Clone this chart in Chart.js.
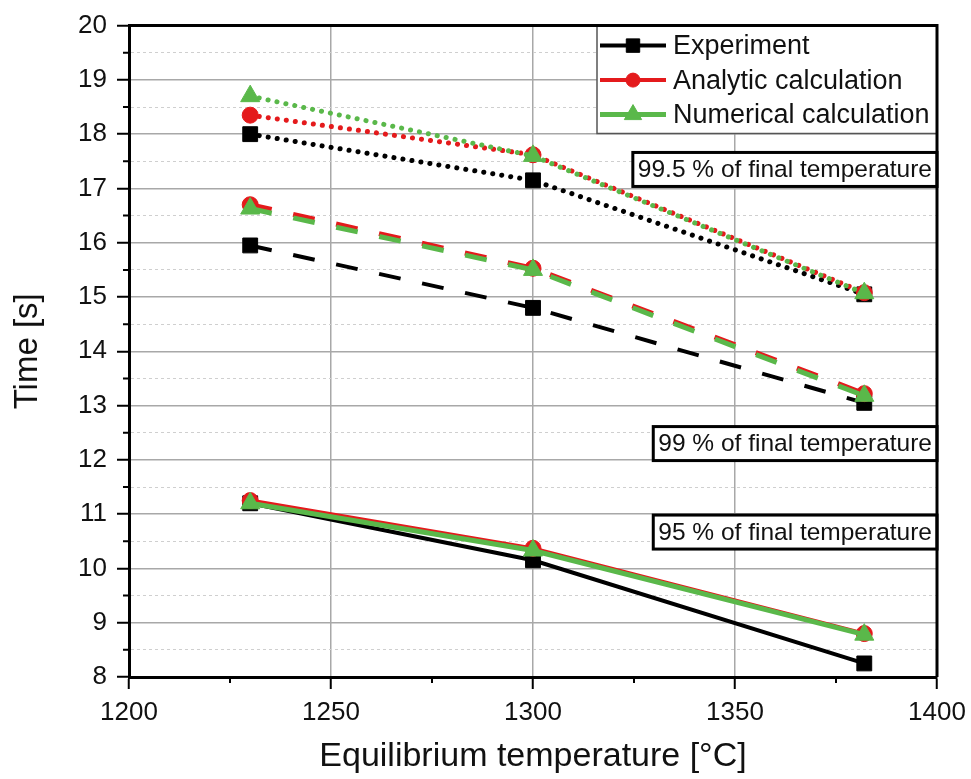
<!DOCTYPE html>
<html>
<head>
<meta charset="utf-8">
<script src="https://cdn.jsdelivr.net/npm/chart.js@4.4.0/dist/chart.umd.min.js"></script>
<style>
  html, body { margin: 0; padding: 0; background: #fff; }
  #wrap { width: 971px; height: 779px; }
</style>
</head>
<body>
<div id="wrap"><canvas id="chart" width="971" height="779"></canvas></div>
<script>
// equilibrium temperatures [°C]
const temps = [1230, 1300, 1382];

// time [s] to reach 95 / 99 / 99.5 % of the final temperature
const exp95 = [11.2, 10.15, 8.25];
const exp99 = [15.95, 14.8, 13.05];
const exp995 = [18.0, 17.15, 15.05];

const ana95 = [11.25, 10.37, 8.8];
const ana99 = [16.7, 15.53, 13.22];
const ana995 = [18.35, 17.62, 15.08];

const num95 = [11.2, 10.33, 8.78];
const num99 = [16.63, 15.5, 13.18];
const num995 = [18.7, 17.6, 15.07];

const seriesNames = ['Experiment', 'Analytic calculation', 'Numerical calculation'];
const levelLabels = ['99.5 % of final temperature', '99 % of final temperature', '95 % of final temperature'];
const levelLabelY = [17.35, 12.3, 10.67];

const FONT = "'Liberation Sans', Arial, sans-serif";
const BLACK = '#000000', RED = '#e41a1c', GREEN = '#5ab84a';
const DOTTED = [0.1, 9], DASHED = [22, 22], SOLID = [];
const seriesColors = [BLACK, RED, GREEN];
const seriesShapes = ['rect', 'circle', 'triangle'];
const shapeRadius = { rect: 10.5, circle: 8, triangle: 11 };

function pts(ys) {
  return ys.map((y, i) => ({ x: temps[i], y: y }));
}

function series(k, ys, dash, width) {
  return {
    label: seriesNames[k],
    data: pts(ys),
    borderColor: seriesColors[k],
    backgroundColor: seriesColors[k],
    borderWidth: width,
    borderDash: dash,
    borderCapStyle: dash === DOTTED ? 'round' : 'butt',
    pointStyle: seriesShapes[k],
    pointRadius: shapeRadius[seriesShapes[k]],
    pointBorderWidth: 1,
    pointBorderColor: seriesColors[k],
    pointBackgroundColor: seriesColors[k],
    order: 2 - k,
    tension: 0
  };
}

const isInt = v => Math.abs(v - Math.round(v)) < 1e-6;

// ticks, boxes, legend and frame
const decorations = {
  id: 'decorations',
  afterDatasetsDraw(chart) {
    const { ctx, chartArea: a, scales: { x, y } } = chart;
    ctx.save();

    // minor ticks
    ctx.strokeStyle = BLACK;
    ctx.lineWidth = 2;
    ctx.beginPath();
    y.ticks.forEach(t => {
      if (!isInt(t.value)) {
        const py = y.getPixelForValue(t.value);
        ctx.moveTo(a.left - 6, py); ctx.lineTo(a.left, py);
      }
    });
    x.ticks.forEach(t => {
      if (t.value % 50 !== 0) {
        const px = x.getPixelForValue(t.value);
        ctx.moveTo(px, a.bottom); ctx.lineTo(px, a.bottom + 6);
      }
    });
    ctx.stroke();

    // level boxes
    ctx.font = '24.5px ' + FONT;
    ctx.textBaseline = 'middle';
    levelLabels.forEach((t, i) => {
      const w = ctx.measureText(t).width + 10;
      const h = 34;
      const cy = y.getPixelForValue(levelLabelY[i]);
      ctx.fillStyle = '#fff';
      ctx.fillRect(a.right - w, cy - h / 2, w, h);
      ctx.lineWidth = 3;
      ctx.strokeStyle = BLACK;
      ctx.strokeRect(a.right - w, cy - h / 2, w, h);
      ctx.fillStyle = '#111';
      ctx.fillText(t, a.right - w + 5, cy + 1);
    });

    // legend
    const lw = 340, lh = 108;
    const lx = a.right - lw, ly = a.top;
    ctx.fillStyle = '#fff';
    ctx.fillRect(lx, ly, lw, lh);
    ctx.strokeStyle = '#555';
    ctx.lineWidth = 1.5;
    ctx.beginPath();
    ctx.moveTo(lx, ly); ctx.lineTo(lx, ly + lh); ctx.lineTo(a.right, ly + lh);
    ctx.stroke();
    ctx.font = '27px ' + FONT;
    seriesNames.forEach((name, k) => {
      const cy = ly + 20 + k * 34.5;
      ctx.strokeStyle = seriesColors[k];
      ctx.fillStyle = seriesColors[k];
      ctx.lineWidth = k === 2 ? 5 : 4;
      ctx.beginPath();
      ctx.moveTo(lx + 3, cy); ctx.lineTo(lx + 69, cy);
      ctx.stroke();
      ctx.lineWidth = 1;
      Chart.helpers.drawPoint(ctx, { pointStyle: seriesShapes[k], rotation: 0, radius: shapeRadius[seriesShapes[k]] - 1, borderWidth: 1 }, lx + 36, cy);
      ctx.fillStyle = '#111';
      ctx.fillText(name, lx + 76, cy + 1);
    });

    // frame top / right
    ctx.strokeStyle = BLACK;
    ctx.lineWidth = 3;
    ctx.beginPath();
    ctx.moveTo(a.left, a.top); ctx.lineTo(a.right, a.top); ctx.lineTo(a.right, a.bottom);
    ctx.stroke();
    ctx.restore();
  }
};

new Chart(document.getElementById('chart').getContext('2d'), {
  type: 'line',
  data: {
    datasets: [
      series(2, num995, DOTTED, 5), series(2, num99, DASHED, 5), series(2, num95, SOLID, 5),
      series(1, ana995, DOTTED, 5), series(1, ana99, DASHED, 5), series(1, ana95, SOLID, 4),
      series(0, exp995, DOTTED, 5), series(0, exp99, DASHED, 4), series(0, exp95, SOLID, 4)
    ]
  },
  options: {
    responsive: false,
    animation: false,
    layout: { padding: { top: 25, right: 34, left: 0, bottom: 0 } },
    plugins: { legend: { display: false }, tooltip: { enabled: false } },
    scales: {
      x: {
        type: 'linear', min: 1200, max: 1400,
        ticks: {
          stepSize: 25, autoSkip: false, maxRotation: 0, padding: 8, color: '#111',
          font: { family: FONT, size: 26 },
          callback: v => (v % 50 === 0 ? String(v) : '')
        },
        grid: {
          color: c => (c.tick && c.tick.value % 50 === 0 ? '#a8a8a8' : 'rgba(0,0,0,0)'),
          lineWidth: 1.5, tickLength: 12, tickWidth: 2,
          tickColor: c => (c.tick && c.tick.value % 50 === 0 ? BLACK : 'rgba(0,0,0,0)')
        },
        border: { color: BLACK, width: 3 },
        title: { display: true, text: 'Equilibrium temperature [°C]', color: '#111',
          font: { family: FONT, size: 34 }, padding: { top: 0, bottom: 2 } },
        afterFit: s => { s.height = 102; s.paddingRight = 0; s.paddingLeft = 0; }
      },
      y: {
        type: 'linear', min: 8, max: 20,
        ticks: {
          stepSize: 0.5, autoSkip: false, padding: 10, color: '#111',
          font: { family: FONT, size: 26 },
          callback: v => (isInt(v) ? String(v) : '')
        },
        grid: {
          color: c => (c.tick && !isInt(c.tick.value) ? '#cfcfcf' : '#a8a8a8'),
          lineWidth: c => (c.tick && !isInt(c.tick.value) ? 1 : 1.5),
          tickLength: 12, tickWidth: 2,
          tickColor: c => (c.tick && !isInt(c.tick.value) ? 'rgba(0,0,0,0)' : BLACK)
        },
        border: { color: BLACK, width: 3, dash: c => (c.tick && !isInt(c.tick.value) ? [3, 3] : []) },
        title: { display: true, text: 'Time [s]', color: '#111',
          font: { family: FONT, size: 33 }, padding: { top: 8, bottom: 0 } },
        afterFit: s => { s.width = 129; }
      }
    }
  },
  plugins: [decorations]
});
</script>
</body>
</html>
